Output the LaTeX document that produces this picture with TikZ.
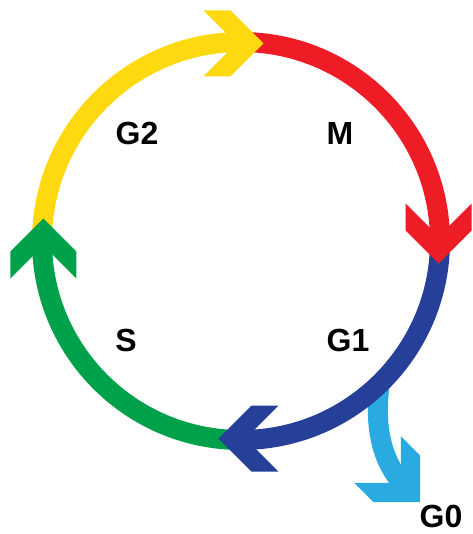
\documentclass[tikz,border=0pt]{standalone}
\usepackage{fontspec}
\setmainfont{Liberation Sans}
\usetikzlibrary{calc}
\definecolor{cyY}{HTML}{FFD90F}
\definecolor{cyR}{HTML}{EE1D25}
\definecolor{cyB}{HTML}{263F98}
\definecolor{cyG}{HTML}{00A14B}
\definecolor{cyL}{HTML}{29ABE2}
\begin{document}
\begin{tikzpicture}[x=0.75pt,y=-0.75pt,
  arcline/.style={line width=15pt},
  lab/.style={font=\fontsize{24}{28}\selectfont\bfseries, inner sep=0pt},
  chev/.pic={\fill (0,0) -- (-33,33) -- (-60,33) -- (-27,0) -- (-60,-33) -- (-33,-33) -- cycle;}]
\useasboundingbox (0,0) rectangle (472,534);
\coordinate (c) at (241,241);
% G0 exit arrow
\coordinate (g0s) at (380,381);
\coordinate (g0e) at (406,488);
\draw[arcline, cyL] (g0s) .. controls (374,425) and (380,460) .. (g0e);
\pic[color=cyL, rotate=-45] at (420,502) {chev};
% arcs
\draw[arcline, cyR] ($(c)+(271:199)$) arc[start angle=271, end angle=361, radius=199];
\draw[arcline, cyB] ($(c)+(1:199)$) arc[start angle=1, end angle=91, radius=199];
\draw[arcline, cyG] ($(c)+(91:199)$) arc[start angle=91, end angle=181, radius=199];
\draw[arcline, cyY] ($(c)+(181:199)$) arc[start angle=181, end angle=271, radius=199];
% heads
\pic[color=cyY] at ($(c)+(276.5:199)$) {chev};
\pic[color=cyR, rotate=-90] at ($(c)+(6.5:199)$) {chev};
\pic[color=cyB, rotate=180] at ($(c)+(96.5:199)$) {chev};
\pic[color=cyG, rotate=90] at ($(c)+(186.5:199)$) {chev};
% labels
\node[lab] (g2) at (137,133) {G2};
\node[lab] (m) at (340,133) {M};
\node[lab] (s) at (126,340) {S};
\node[lab] (g1) at (348,340) {G1};
\node[lab] (g0) at (441,516) {G0};
\end{tikzpicture}
\end{document}
